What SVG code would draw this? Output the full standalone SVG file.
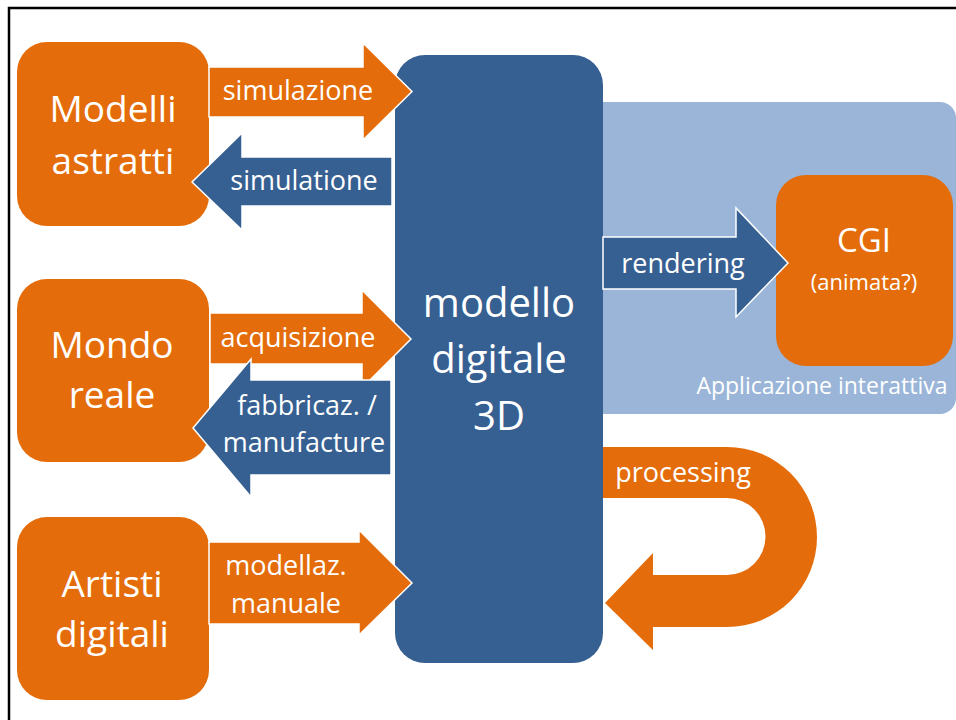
<svg xmlns="http://www.w3.org/2000/svg" width="956" height="720" viewBox="0 0 956 720">
<style>
.or{fill:#E46C0A}
.db{fill:#376092}
.arr{stroke:#FFFFFF;stroke-width:1.5;stroke-linejoin:miter}
text{font-family:"Open Sans","Noto Sans","DejaVu Sans",sans-serif;fill:#FFFFFF;text-anchor:middle}
.big{font-size:37px}
.lab{font-size:27px}
</style>
<rect x="0" y="0" width="956" height="720" fill="#FFFFFF"/>
<rect x="9" y="8" width="1000" height="800" fill="none" stroke="#000000" stroke-width="2.5"/>
<g id="applicazione">
<rect x="560" y="102" width="396" height="312" rx="16" fill="#9AB5D8"/>
<text x="822" y="394" style="font-size:23px">Applicazione interattiva</text>
</g>
<g id="modello">
<rect class="db" x="395" y="55" width="208" height="608" rx="30"/>
<text x="499" y="317" style="font-size:40px">modello</text>
<text x="499" y="373" style="font-size:40px">digitale</text>
<text x="499" y="430" style="font-size:40px">3D</text>
</g>
<g id="modelli">
<rect class="or" x="17" y="42" width="192" height="184" rx="30"/>
<text class="big" x="113" y="122">Modelli</text>
<text class="big" x="113" y="174">astratti</text>
</g>
<g id="mondo">
<rect class="or" x="17" y="279" width="192" height="183" rx="30"/>
<text class="big" x="112" y="358">Mondo</text>
<text class="big" x="112" y="408">reale</text>
</g>
<g id="artisti">
<rect class="or" x="17" y="517" width="192" height="183" rx="30"/>
<text class="big" x="112" y="597">Artisti</text>
<text class="big" x="112" y="647">digitali</text>
</g>
<g id="cgi">
<rect class="or" x="776" y="175" width="177" height="191" rx="30"/>
<text x="864" y="252" style="font-size:33px">CGI</text>
<text x="864" y="290" style="font-size:22px">(animata?)</text>
</g>
<g id="connectors">
<g id="c-simulazione">
<path class="or arr" d="M209,67 H363 V43 L412,91.5 L363,140 V117 H209 Z"/>
<text class="lab" x="298" y="100">simulazione</text>
</g>
<g id="c-simulatione">
<path class="db arr" d="M392,157 H242 V133 L192,182 L242,230 V206 H392 Z"/>
<text class="lab" x="304" y="190">simulatione</text>
</g>
<g id="c-acquisizione">
<path class="or arr" d="M210,313 H362 V290 L411,339 L362,388 V364 H210 Z"/>
<text class="lab" x="298" y="347">acquisizione</text>
</g>
<g id="c-fabbricaz">
<path class="db arr" d="M391,380 H251 V359 L193,428 L251,497 V475 H391 Z"/>
<text class="lab" x="307" y="415">fabbricaz. /</text>
<text class="lab" x="304" y="452">manufacture</text>
</g>
<g id="c-modellaz">
<path class="or arr" d="M209,542 H359 V530 L412,583 L359,635 V624 H209 Z"/>
<text class="lab" x="286" y="575">modellaz.</text>
<text class="lab" x="286" y="613">manuale</text>
</g>
<g id="c-rendering">
<path class="db arr" d="M603,237 H736 V208 L788,263 L736,317 V289 H603 Z"/>
<text class="lab" x="683" y="273">rendering</text>
</g>
<g id="c-processing">
<path class="or" d="M603,447 H727 A90,90 0 0 1 727,627 H653 V650 L605,603 L653,553 V575 H727 A38.5,38.5 0 0 0 727,498 H603 Z"/>
<text class="lab" x="683" y="482">processing</text>
</g>
</g>
</svg>
